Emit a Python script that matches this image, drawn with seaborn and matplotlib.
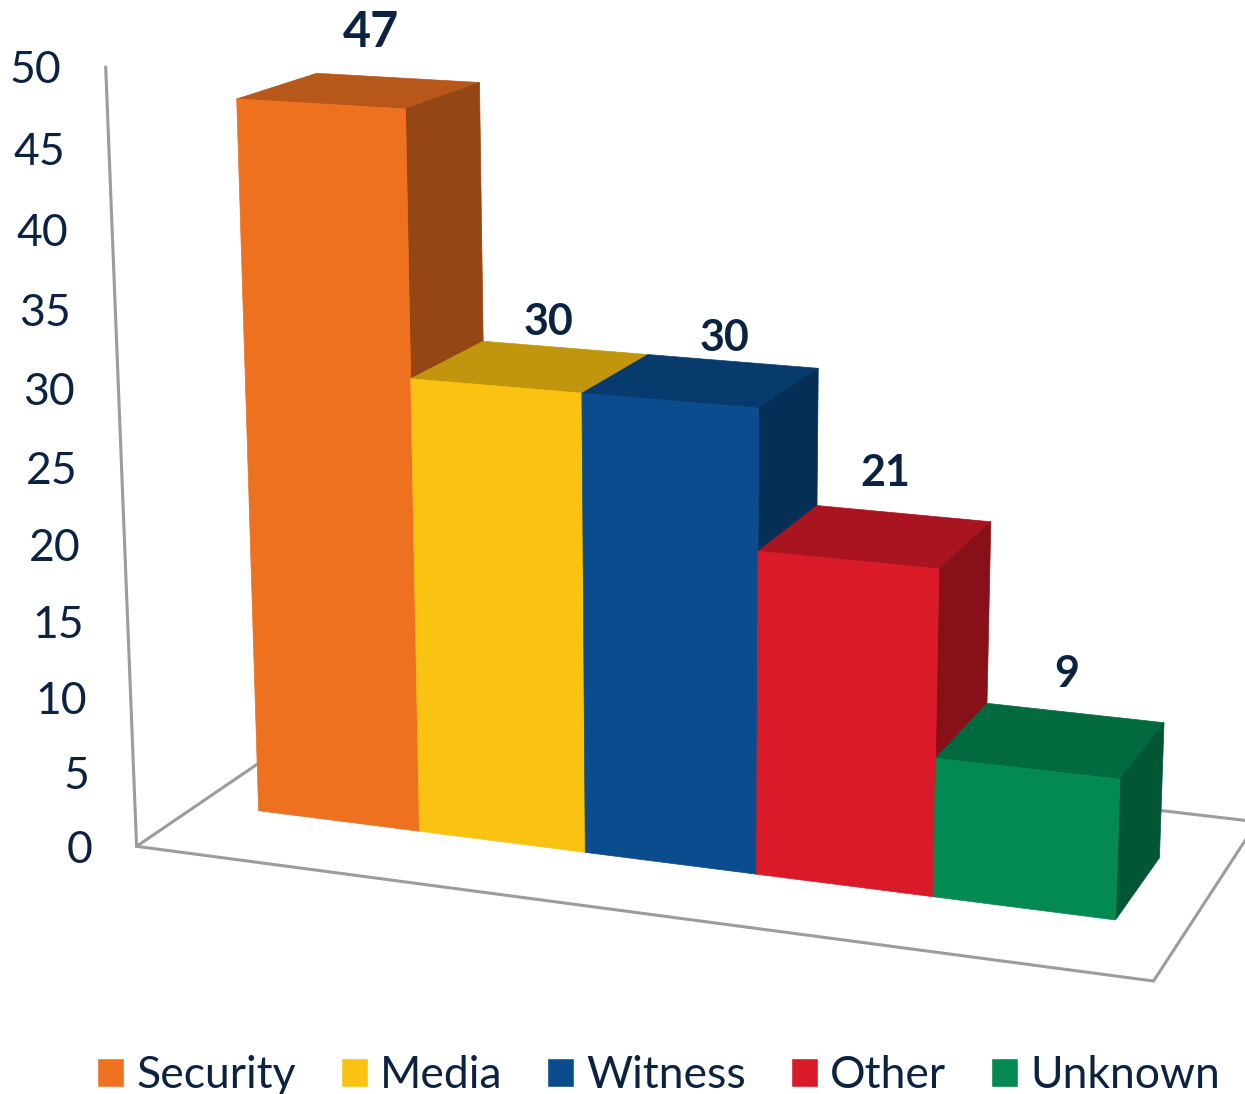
import numpy as np
import pandas as pd
import seaborn as sns
import matplotlib
matplotlib.use('Agg')
import matplotlib.pyplot as plt
from matplotlib.transforms import Transform
from matplotlib.colors import to_rgb

# ---- data ----
categories = ['Security', 'Media', 'Witness', 'Other', 'Unknown']
values = [47, 30, 30, 21, 9]
colors = ['#EE7120', '#FAC312', '#0A4C8D', '#DA1A28', '#028A52']
value_ticks = [0, 5, 10, 15, 20, 25, 30, 35, 40, 45, 50]

# ---- styling / layout ----
INK = '#0B2340'
GRID = '#9C9C9C'
TOP_SHADE, SIDE_SHADE = 0.77, 0.62
LABEL_OFFSETS = [(-26, -45), (-16, -26), (-8, -23), (-18, -41), (-8, -39)]
LABEL_SIZES = [35, 31, 31, 31, 31]
FLOOR_X = (-0.373, 5.385)
FLOOR_Z = (-0.76, 1.76)

# camera: (bar slot, value, depth) -> image pixels
CAMERA = np.array([[154.4615487, -0.7105165, 89.4988817, 258.6102025],
                   [7.8928427, -15.2468374, -21.3291375, 810.7428629],
                   [-0.0151675, -0.001032, 0.0421707, 1.0]])


def project(X, Y, Z):
    h = CAMERA @ np.array([np.asarray(X, float), np.asarray(Y, float),
                           np.asarray(Z, float), np.ones_like(np.asarray(X, float))])
    return h[0] / h[2], h[1] / h[2]


class FrontPlane(Transform):
    """Seaborn's categorical bar coordinates -> pixels on the front plane."""
    input_dims = output_dims = 2
    is_affine = False

    def transform_non_affine(self, xy):
        xy = np.asarray(xy, float)
        px, py = project(xy[:, 0] + 0.5, xy[:, 1], np.zeros(len(xy)))
        return np.column_stack([px, py])


sns.set_theme(style='white')
plt.rcParams['font.family'] = ['Lato', 'DejaVu Sans']

fig = plt.figure(figsize=(12.45, 10.94), dpi=100)
ax = fig.add_axes([0, 0, 1, 1])

df = pd.DataFrame({'category': categories, 'value': values})
sns.barplot(data=df, x='category', y='value', hue='category', palette=colors,
            width=1, saturation=1, dodge=False, legend=True, ax=ax)

front = FrontPlane() + ax.transData
for i, bar in enumerate(ax.patches):
    bar.set_transform(front)
    bar.set_zorder(3 + i + 0.5)
    bar.set_edgecolor(bar.get_facecolor())
    bar.set_linewidth(0.5)

# floor outline
fx = [FLOOR_X[0], FLOOR_X[1], FLOOR_X[1], FLOOR_X[0], FLOOR_X[0]]
fz = [FLOOR_Z[0], FLOOR_Z[0], FLOOR_Z[1], FLOOR_Z[1], FLOOR_Z[0]]
ax.plot(*project(fx, np.zeros(5), fz), color=GRID, lw=2.2, zorder=1, solid_joinstyle='miter')

# value axis line and its labels
ax.plot(*project([FLOOR_X[0]] * 2, [value_ticks[0], value_ticks[-1]], [FLOOR_Z[0]] * 2),
        color=GRID, lw=2.2, zorder=1)
for t in value_ticks:
    px, py = project(FLOOR_X[0], t, FLOOR_Z[0])
    ax.text(px - 44, py + 4, str(t), ha='right', va='center', fontsize=32, color=INK)

# top and side faces of every bar
for i, (v, c) in enumerate(zip(values, colors)):
    rgb = np.array(to_rgb(c))
    top = tuple(rgb * TOP_SHADE)
    side = tuple(rgb * SIDE_SHADE)
    ax.fill(*project([i, i + 1, i + 1, i], [v] * 4, [0, 0, 1, 1]),
            color=top, lw=0.5, zorder=3 + i)
    ax.fill(*project([i + 1] * 4, [0, v, v, 0], [0, 0, 1, 1]),
            color=side, lw=0.5, zorder=3 + i)
    px, py = project(i + 0.5, v, 1)
    dx, dy = LABEL_OFFSETS[i]
    ax.text(px + dx, py + dy, str(v), ha='center', va='center', fontweight='bold',
            fontsize=LABEL_SIZES[i], color=INK, zorder=20)

ax.set_xlim(0, 1245)
ax.set_ylim(1094, 0)
ax.set_axis_off()

fs = 32
px_to_pt = 72 / 100
sns.move_legend(ax, loc='center', bbox_to_anchor=(658.5 / 1245, 1 - 1075.5 / 1094), ncol=5,
                frameon=False, title=None, fontsize=fs, labelcolor=INK,
                handlelength=27 * px_to_pt / fs, handleheight=27 * px_to_pt / fs,
                handletextpad=12 * px_to_pt / fs, columnspacing=45 * px_to_pt / fs,
                borderpad=0, borderaxespad=0)

fig.savefig('out.png', dpi=100)
